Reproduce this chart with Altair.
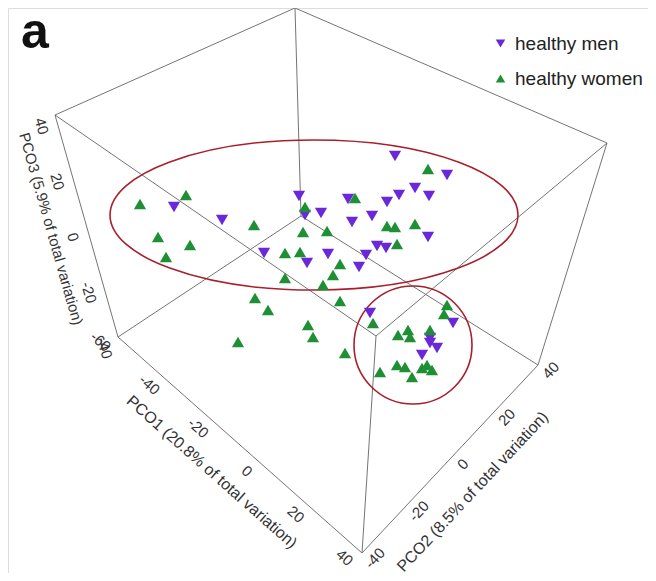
import math
import altair as alt
import pandas as pd

# ---------------- data (projected view-plane positions) ----------------
groups = ["healthy men", "healthy women"]

men_x = [174, 222, 264, 307, 299, 305, 321, 395, 447, 348, 352, 372, 387, 399, 415, 429,
         428, 377, 386, 366, 359, 328, 370, 453, 430, 437, 422, 430]
men_y = [207, 220, 253, 263, 196, 215, 213, 156, 175, 199, 222, 216, 202, 195, 188, 196,
         237, 246, 248, 255, 267, 254, 313, 323, 343, 348, 355, 338]

women_x = [140, 186, 158, 190, 166, 254, 285, 300, 285, 255, 268, 238, 308, 313, 305, 303,
           428, 355, 327, 387, 395, 415, 397, 340, 333, 323, 340, 447, 444, 373, 408, 398,
           410, 430, 345, 380, 397, 405, 412, 422, 432, 427]
women_y = [204, 195, 237, 245, 257, 225, 253, 252, 278, 298, 310, 342, 325, 337, 207, 232,
           169, 198, 231, 226, 227, 224, 244, 264, 275, 285, 301, 305, 314, 323, 330, 335,
           337, 330, 353, 372, 365, 367, 377, 368, 370, 365]

pco1_ticks = [-60, -40, -20, 0, 20, 40]
pco2_ticks = [-40, -20, 0, 20, 40]
pco3_ticks = [40, 20, 0, -20, -40]

axis_titles = ["PCO1 (20.8% of total variation)",
               "PCO2 (8.5% of total variation)",
               "PCO3 (5.9% of total variation)"]

# ---------------- layout of the projected box ----------------
corner = {"A": (295, 8), "B": (55, 115), "C": (607, 143), "D": (118, 337),
          "E": (362, 553), "F": (538, 365), "G": (376, 336), "H": (301, 216)}
edge_list = [("A", "B"), ("A", "C"), ("A", "H"), ("B", "D"), ("B", "G"), ("C", "F"),
             ("C", "G"), ("D", "E"), ("D", "H"), ("E", "F"), ("E", "G"), ("F", "H")]

FONT = "Liberation Sans"
X = alt.Scale(domain=[8, 648])
Y = alt.Scale(domain=[8, 573], reverse=True)

edges = pd.DataFrame([{"x": corner[a][0], "y": corner[a][1],
                       "x2": corner[b][0], "y2": corner[b][1]} for a, b in edge_list])

# axes: start corner, end corner, start value, end value, ticks, tick offset, along shift,
#       title, title fraction, title offset, title font size
axes = [
    ("D", "E", -60, 40, pco1_ticks, 15, -10, axis_titles[0], 0.49, 39, 16),
    ("E", "F", -40, 40, pco2_ticks, 13, 5, axis_titles[1], 0.467, 39, 16),
    ("B", "D", 40, -40, pco3_ticks, 16, 7, axis_titles[2], 0.47, 35, 15),
]

tick_rows, title_rows = [], []
for s, e, v0, v1, ticks, off, shift, title, tf, toff, tfs in axes:
    sx, sy = corner[s]
    ex, ey = corner[e]
    L = math.hypot(ex - sx, ey - sy)
    ux, uy = (ex - sx) / L, (ey - sy) / L
    nx, ny = -uy, ux
    ang = math.degrees(math.atan2(uy, ux)) % 360
    for v in ticks:
        t = (v - v0) / (v1 - v0) * L + shift
        tick_rows.append({"x": sx + ux * t + nx * off, "y": sy + uy * t + ny * off,
                          "label": str(v), "angle": ang})
    t = tf * L
    title_rows.append({"x": sx + ux * t + nx * toff, "y": sy + uy * t + ny * toff,
                       "label": title, "angle": ang, "fs": tfs})

ticks_df = pd.DataFrame(tick_rows)
titles_df = pd.DataFrame(title_rows)

points = pd.DataFrame(
    [{"x": x, "y": y, "group": groups[0]} for x, y in zip(men_x, men_y)] +
    [{"x": x, "y": y, "group": groups[1]} for x, y in zip(women_x, women_y)]
)

# ---------------- layers ----------------
box = alt.Chart(edges).mark_rule(color="#747474", strokeWidth=1).encode(
    x=alt.X("x:Q", scale=X, axis=None), y=alt.Y("y:Q", scale=Y, axis=None),
    x2="x2:Q", y2="y2:Q")

ell_df = pd.DataFrame({"x": [314], "y": [215]})
ellipse = alt.Chart(ell_df).mark_point(
    shape="M-1,0A1,0.368,0,1,1,1,0A1,0.368,0,1,1,-1,0Z",
    size=408 ** 2, filled=False, color="#a8202c", strokeWidth=1.6, opacity=1
).encode(x=alt.X("x:Q", scale=X, axis=None), y=alt.Y("y:Q", scale=Y, axis=None))

circ_df = pd.DataFrame({"x": [413], "y": [345]})
circle = alt.Chart(circ_df).mark_point(
    shape="circle", size=118 ** 2, filled=False, color="#a8202c", strokeWidth=1.6, opacity=1
).encode(x=alt.X("x:Q", scale=X, axis=None), y=alt.Y("y:Q", scale=Y, axis=None))

legend = alt.Legend(orient="none", legendX=483, legendY=26, title=None,
                    labelFontSize=19, labelFont=FONT, labelColor="#222",
                    symbolSize=90, rowPadding=15, padding=0,
                    labelOffset=5, symbolStrokeWidth=0)

pts = alt.Chart(points).mark_point(filled=True, size=150, opacity=1, strokeWidth=0).encode(
    x=alt.X("x:Q", scale=X, axis=None),
    y=alt.Y("y:Q", scale=Y, axis=None),
    color=alt.Color("group:N", scale=alt.Scale(domain=groups, range=["#6a28d8", "#1f8f35"]),
                    legend=legend),
    shape=alt.Shape("group:N", scale=alt.Scale(domain=groups,
                                               range=["triangle-down", "triangle-up"]),
                    legend=legend),
)

tick_text = alt.Chart(ticks_df).mark_text(
    font=FONT, fontSize=15, color="#333", align="center", baseline="middle"
).encode(x=alt.X("x:Q", scale=X, axis=None), y=alt.Y("y:Q", scale=Y, axis=None),
         text="label:N", angle=alt.Angle("angle:Q", scale=None))

title_text = alt.Chart(titles_df).mark_text(
    font=FONT, color="#333", align="center", baseline="middle"
).encode(x=alt.X("x:Q", scale=X, axis=None), y=alt.Y("y:Q", scale=Y, axis=None),
         text="label:N", angle=alt.Angle("angle:Q", scale=None),
         size=alt.Size("fs:Q", scale=None))

panel_df = pd.DataFrame({"x": [21], "y": [48], "label": ["a"]})
panel = alt.Chart(panel_df).mark_text(
    font=FONT, fontSize=50, fontWeight="bold", color="#111", align="left", baseline="alphabetic"
).encode(x=alt.X("x:Q", scale=X, axis=None), y=alt.Y("y:Q", scale=Y, axis=None),
         text="label:N")

chart = alt.layer(box, ellipse, circle, pts, tick_text, title_text, panel).properties(
    width=640, height=565, padding=0, autosize=alt.AutoSizeParams(type="none")
).configure_view(strokeWidth=0).configure(background="white")

chart.save("out.html", embed_options={"renderer": "svg", "actions": False})
